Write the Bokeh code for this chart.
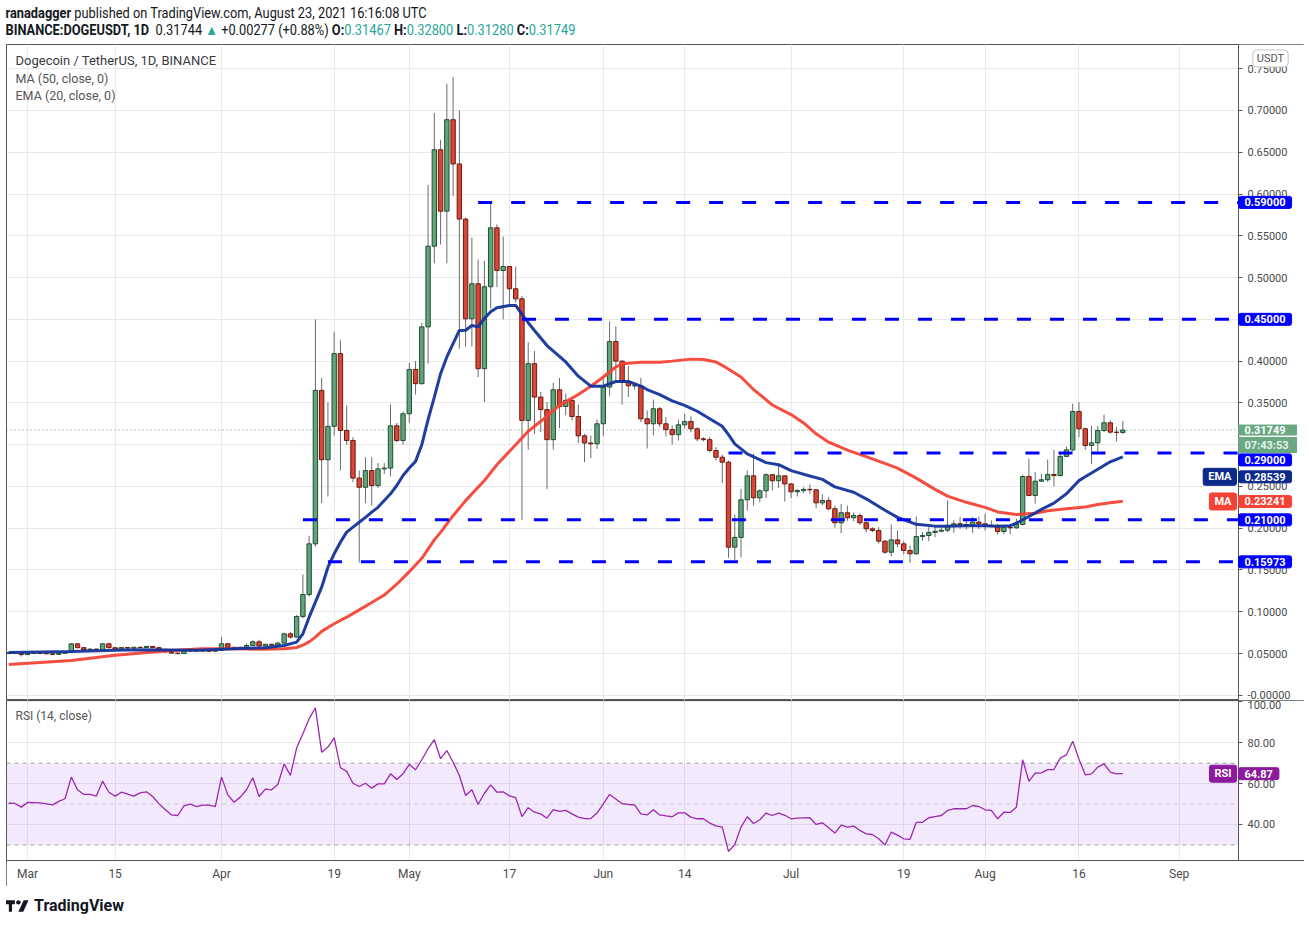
import pandas as pd
from bokeh.plotting import figure
from bokeh.layouts import column
from bokeh.models import (ColumnDataSource, FixedTicker, Label, BoxAnnotation,
                          Div, Grid, NumeralTickFormatter, Range1d)
from bokeh.embed import file_html
from bokeh.resources import INLINE

# ---------------- data ----------------
START = "2021-02-26"   # first daily candle

open_ = [.0500,.0512,.0505,.0487,.0503,.0505,.0500,.0497,.0490,.0503,
         .0520,.0616,.0570,.0548,.0553,.0547,.0616,.0570,.0552,.0572,
         .0565,.0575,.0572,.0585,.0570,.0550,.0520,.0505,.0500,.0536,
         .0530,.0534,.0530,.0528,.0536,.0617,.0575,.0555,.0575,.0596,
         .0640,.0590,.0610,.0600,.0625,.0736,.0697,.0943,.1207,.1813,
         .3650,.2820,.3220,.4090,.3170,.3050,.2600,.2490,.2690,.2510,
         .2710,.2720,.3226,.3050,.3370,.3900,.3730,.4410,.5376,.6530,
         .5795,.6890,.6360,.5700,.4507,.4926,.3910,.4890,.5596,.5085,
         .5133,.4866,.4746,.3290,.3970,.3570,.3420,.3060,.3657,.3457,
         .3530,.3337,.3106,.3020,.3010,.3250,.3690,.4235,.4000,.3756,
         .3705,.3705,.3310,.3250,.3430,.3250,.3180,.3120,.3238,.3278,
         .3190,.3070,.3060,.2930,.2850,.2790,.1773,.1890,.2340,.2627,
         .2364,.2448,.2640,.2568,.2627,.2530,.2436,.2450,.2465,.2460,
         .2304,.2332,.2233,.2065,.2185,.2125,.2152,.2065,.1993,.1973,
         .1845,.1713,.1860,.1813,.1733,.1694,.1900,.1913,.1950,.1964,
         .1976,.2033,.2053,.2045,.2033,.2073,.2053,.2025,.2033,.1960,
         .2013,.2005,.2045,.2619,.2392,.2563,.2580,.2643,.2630,.2859,
         .2938,.3397,.3190,.2990,.3022,.3170,.3262,.3150,.31467]
high = [.0520,.0518,.0510,.0510,.0512,.0510,.0506,.0503,.0506,.0525,
        .0625,.0625,.0577,.0558,.0560,.0628,.0632,.0576,.0578,.0577,
        .0580,.0582,.0592,.0590,.0573,.0553,.0524,.0508,.0540,.0542,
        .0538,.0538,.0534,.0540,.0700,.0625,.0580,.0582,.0620,.0660,
        .0665,.0615,.0618,.0640,.0750,.0760,.0960,.1446,.1910,.4500,
        .3800,.3510,.4350,.4250,.3470,.3090,.2690,.2850,.2850,.2780,
        .2780,.3480,.3260,.3400,.3980,.4000,.4460,.6110,.6970,.6650,
        .7320,.7400,.7000,.5720,.5480,.5216,.5200,.5900,.5637,.5490,
        .5135,.5130,.4780,.4227,.4120,.3630,.3510,.3740,.3800,.3610,
        .3560,.3480,.3130,.3110,.3300,.3820,.4475,.4415,.4010,.3940,
        .3730,.3800,.3410,.3540,.3450,.3330,.3230,.3300,.3370,.3340,
        .3210,.3090,.3090,.2970,.2880,.2810,.2160,.2470,.2690,.2890,
        .2465,.2660,.2650,.2760,.2630,.2540,.2470,.2490,.2525,.2465,
        .2405,.2372,.2270,.2290,.2270,.2190,.2180,.2085,.2013,.2013,
        .1853,.2045,.1973,.1845,.1793,.2140,.1953,.2013,.2025,.2005,
        .2332,.2093,.2133,.2093,.2133,.2140,.2173,.2093,.2053,.2033,
        .2045,.2113,.2640,.2830,.2672,.2652,.2822,.2940,.2893,.2978,
        .3490,.3506,.3205,.3225,.3225,.3358,.3298,.3210,.3280]
low = [.0495,.0500,.0465,.0482,.0495,.0496,.0492,.0486,.0488,.0500,
       .0515,.0562,.0540,.0542,.0543,.0540,.0562,.0548,.0549,.0560,
       .0560,.0567,.0568,.0566,.0546,.0515,.0500,.0490,.0497,.0524,
       .0525,.0526,.0522,.0524,.0530,.0570,.0540,.0550,.0570,.0590,
       .0585,.0585,.0595,.0595,.0620,.0680,.0690,.0920,.1180,.1780,
       .2300,.2380,.3110,.2690,.3000,.2550,.1590,.2300,.2270,.2480,
       .2650,.2620,.3030,.3000,.3260,.3600,.3720,.3970,.5170,.5396,
       .5170,.5980,.4150,.4175,.4175,.3810,.3510,.4630,.4885,.4500,
       .4666,.4700,.2100,.2940,.3130,.3150,.2470,.2940,.3200,.3350,
       .3290,.3020,.2790,.2840,.2950,.3100,.3580,.3770,.3480,.3570,
       .3660,.3270,.2954,.3110,.3210,.3100,.3000,.3050,.3190,.3150,
       .3040,.3040,.2910,.2810,.2540,.1646,.1620,.1650,.2210,.2270,
       .2310,.2360,.2450,.2480,.2320,.2360,.2380,.2420,.2410,.2240,
       .2275,.2212,.2005,.1940,.2090,.2085,.2040,.1953,.1953,.1813,
       .1693,.1665,.1773,.1685,.1587,.1685,.1850,.1845,.1893,.1953,
       .1953,.1945,.1993,.1985,.1945,.1993,.1973,.2010,.1920,.1930,
       .1930,.1993,.2033,.2382,.2295,.2555,.2555,.2502,.2622,.2852,
       .2918,.3090,.2938,.2770,.2918,.3150,.3130,.3040,.3128]
close = [.0512,.0505,.0487,.0503,.0505,.0500,.0497,.0490,.0503,.0520,
         .0616,.0570,.0548,.0553,.0547,.0616,.0570,.0552,.0572,.0565,
         .0575,.0572,.0585,.0570,.0550,.0520,.0505,.0500,.0536,.0530,
         .0534,.0530,.0528,.0536,.0617,.0575,.0555,.0575,.0596,.0640,
         .0590,.0610,.0600,.0625,.0736,.0697,.0943,.1207,.1813,.3650,
         .2820,.3220,.4090,.3170,.3050,.2600,.2490,.2690,.2510,.2710,
         .2720,.3226,.3050,.3370,.3900,.3730,.4410,.5376,.6530,.5795,
         .6890,.6360,.5700,.4507,.4926,.3910,.4890,.5596,.5085,.5133,
         .4866,.4746,.3290,.3970,.3570,.3420,.3060,.3657,.3457,.3530,
         .3337,.3106,.3020,.3010,.3250,.3690,.4235,.4000,.3756,.3705,
         .3705,.3310,.3250,.3430,.3250,.3180,.3120,.3238,.3278,.3190,
         .3070,.3060,.2930,.2850,.2790,.1773,.1890,.2340,.2627,.2364,
         .2448,.2640,.2568,.2627,.2530,.2436,.2450,.2465,.2460,.2304,
         .2332,.2233,.2065,.2185,.2125,.2152,.2065,.1993,.1973,.1845,
         .1713,.1860,.1813,.1733,.1694,.1900,.1913,.1950,.1964,.1976,
         .2033,.2053,.2045,.2033,.2073,.2053,.2025,.2033,.1960,.2013,
         .2005,.2045,.2619,.2392,.2563,.2580,.2643,.2630,.2859,.2938,
         .3397,.3190,.2990,.3022,.3170,.3262,.3150,.31467,.31749]

rsi = [50.4,50.3,48.5,50.8,50.7,50.6,50.1,49.6,51.3,52.6,
       63.2,57.0,54.7,54.7,53.9,61.2,55.8,53.9,55.8,54.9,
       53.9,55.5,56.0,53.7,50.1,47.3,44.7,44.4,49.1,50.0,
       48.8,49.5,49.5,48.8,63.2,54.5,50.9,53.4,57.0,62.9,
       53.7,57.3,57.0,59.6,69.7,64.0,77.4,84.4,91.8,97.1,
       75.4,77.9,82.4,67.8,66.0,60.2,58.6,60.2,57.8,59.9,
       59.9,64.8,62.0,64.8,69.4,66.8,71.7,77.1,81.5,72.2,
       76.2,70.5,64.0,54.2,57.0,49.8,55.3,59.4,55.8,56.0,
       54.0,53.1,43.9,48.2,46.0,45.2,43.1,47.3,46.4,46.9,
       45.2,43.6,42.9,42.9,45.6,50.1,54.7,52.5,50.2,49.8,
       49.6,45.2,44.7,47.2,44.7,44.2,43.8,45.7,45.7,43.6,
       42.8,42.8,40.7,39.3,38.7,26.8,30.2,38.7,43.8,40.5,
       42.3,45.6,44.4,45.6,44.5,42.8,43.1,43.2,43.3,40.0,
       40.8,38.4,35.8,39.7,38.7,39.2,37.1,35.4,35.1,33.0,
       30.0,36.3,34.8,33.0,32.7,41.0,41.1,43.3,43.9,44.4,
       46.9,47.7,47.7,47.7,49.3,48.8,47.2,46.9,42.8,46.0,
       45.9,48.5,71.7,61.1,65.1,65.3,66.9,66.9,72.5,74.1,
       80.8,72.0,64.3,64.8,68.1,69.7,65.6,64.8,64.87]

# EMA(20) and MA(50) at these candle numbers
ema_day = [0,10,20,30,36,41,44,46,47,48,49,50,51,52,53,54,55,56,57,58,59,60,61,62,63,64,65,66,67,68,
           69,70,71,72,73,74,75,76,77,78,80,81,82,83,84,86,89,91,93,95,97,99,101,102,104,106,108,110,
           112,114,115,116,118,121,123,125,128,130,132,135,137,140,142,145,148,150,153,156,158,160,161,
           163,165,167,169,171,172,174,176,178]
ema_val = [.0512,.0525,.0545,.0540,.0556,.0570,.0596,.0636,.0736,.0935,.1115,.1294,.1533,.1694,.1833,
           .1953,.2013,.2072,.2130,.2192,.2250,.2332,.2412,.2511,.2631,.2720,.2800,.3000,.3300,.3570,
           .3850,.4050,.4210,.4367,.4370,.4427,.4410,.4510,.4590,.4638,.4666,.4666,.4560,.4460,.4367,
           .4187,.3990,.3820,.3700,.3700,.3756,.3756,.3700,.3660,.3600,.3525,.3470,.3400,.3310,.3220,
           .3120,.3010,.2890,.2785,.2760,.2690,.2625,.2585,.2495,.2430,.2352,.2215,.2130,.2047,.2025,
           .2025,.2030,.2030,.2025,.2030,.2060,.2140,.2225,.2300,.2412,.2570,.2615,.2705,.2795,.2854]
ma_day = [0,10,17,26,31,36,41,44,46,47,48,49,50,52,54,56,58,60,62,64,65,66,67,68,69,71,73,76,78,81,
          83,85,88,91,93,95,97,98,101,104,106,109,111,113,114,117,119,120,122,125,127,129,131,134,138,
          142,145,148,150,153,156,158,161,164,166,169,172,174,176,178]
ma_val = [.0370,.0417,.0480,.0536,.0556,.0556,.0550,.0557,.0572,.0600,.0640,.0696,.0765,.0856,.0935,
          .1023,.1110,.1200,.1330,.1480,.1560,.1640,.1750,.1860,.1950,.2150,.2330,.2570,.2760,.3000,
          .3160,.3280,.3470,.3600,.3700,.3810,.3930,.3970,.3986,.3986,.4000,.4024,.4020,.3990,.3950,
          .3810,.3660,.3600,.3475,.3360,.3260,.3130,.3030,.2935,.2830,.2720,.2600,.2465,.2385,.2310,
          .2250,.2195,.2164,.2180,.2210,.2233,.2255,.2284,.2305,.2324]

levels = [0.59, 0.45, 0.29, 0.21, 0.15973]
level_start = ["2021-05-12", "2021-05-19", "2021-06-21", "2021-04-14", "2021-04-18"]
# where each level's price tag sits on the scale (0.29 tag is nudged below the last-price tag)
level_tag_at = [0.59, 0.45, 0.2818, 0.21, 0.15973]

tick_dates = ["2021-03-01", "2021-03-15", "2021-04-01", "2021-04-19", "2021-05-01", "2021-05-17",
              "2021-06-01", "2021-06-14", "2021-07-01", "2021-07-19", "2021-08-01", "2021-08-16",
              "2021-09-01"]
tick_labels = ["Mar", "15", "Apr", "19", "May", "17", "Jun", "14", "Jul", "19", "Aug", "16", "Sep"]
price_ticks = [0.0, 0.05, 0.10, 0.15, 0.20, 0.25, 0.30, 0.35, 0.40, 0.45, 0.50, 0.55, 0.60, 0.65, 0.70, 0.75]
rsi_ticks = [40, 60, 80, 100]
last_close = close[-1]
ema_last = 0.28539
ma_last = 0.23241
rsi_last = 64.87
countdown = "07:43:53"

# ---------------- styling ----------------
FONT = "Roboto"
UP_FILL, UP_LINE = "#62a37a", "#1e5032"
DN_FILL, DN_LINE = "#d74637", "#6e190f"
WICK = "#6b6b6b"
GRID = "#e9e9e9"
FRAME = "#555555"
AXTXT = "#4a4a4a"
LEVEL = "#0000ff"


def day_of(s):
    return (pd.Timestamp(s) - pd.Timestamp(START)).days


days = list(range(len(close)))
tick_days = [day_of(s) for s in tick_dates]
level_days = [day_of(s) for s in level_start]

# x extent: frame spans the plot area plus the price-scale strip on the right
X0, X1, XEND = -0.355, 196.48, 207.03
PY0, PY1 = -0.00622, 0.7790
RY0, RY1 = 22.37, 100.71
W = 1298
TAG_L = 1232      # left edge of the scale tags (canvas px)
TAG_R = 1230      # right edge of the name tags (canvas px)

src = ColumnDataSource(dict(
    x=days, o=open_, h=high, l=low, c=close,
    top=[max(o, c) for o, c in zip(open_, close)],
    bottom=[min(o, c) for o, c in zip(open_, close)],
    fill=[UP_FILL if c >= o else DN_FILL for o, c in zip(open_, close)],
    line=[UP_LINE if c >= o else DN_LINE for o, c in zip(open_, close)],
))


def style_yaxis(ax, ticks, fmt):
    ax.ticker = FixedTicker(ticks=ticks)
    ax.formatter = NumeralTickFormatter(format=fmt)
    ax.fixed_location = X1
    ax.axis_line_color = FRAME
    ax.major_tick_line_color = FRAME
    ax.major_tick_out = 4
    ax.major_tick_in = 0
    ax.minor_tick_line_color = None
    ax.major_label_text_color = AXTXT
    ax.major_label_text_font = FONT
    ax.major_label_text_font_size = "11px"
    ax.major_label_standoff = 5


def txt(fig, y, text, color, size="12px"):
    fig.add_layout(Label(x=9, y=y, x_units="screen", y_units="data", text=text,
                         text_color=color, text_font=FONT, text_font_size=size,
                         text_baseline="middle", text_align="left"))


def tag(fig, y, text, bg, fg="white", x=TAG_L, align="left", style="bold", border=None,
        pad=(6, 6, 2, 2), radius=2):
    fig.add_layout(Label(x=x, y=y, x_units="screen", y_units="data", text=text,
                         text_color=fg, text_font=FONT, text_font_size="11px",
                         text_font_style=style, text_baseline="middle", text_align=align,
                         background_fill_color=bg, border_line_color=border or bg,
                         padding=dict(left=pad[0], right=pad[1], top=pad[2], bottom=pad[3]),
                         border_radius=radius))


# ---------------- price pane ----------------
p = figure(width=W, height=656, x_range=Range1d(X0, XEND), y_range=Range1d(PY0, PY1),
           x_axis_location=None, y_axis_location="right", toolbar_location=None,
           output_backend="svg", min_border_left=0, min_border_right=0,
           min_border_top=0, min_border_bottom=0, margin=(0, 0, 0, 6),
           background_fill_color="white", border_fill_color="white")
p.outline_line_color = FRAME
p.outline_line_width = 1
for g in p.xgrid:
    g.ticker = FixedTicker(ticks=tick_days)
    g.grid_line_color = GRID
p.add_layout(Grid(dimension=0, ticker=FixedTicker(ticks=tick_days), grid_line_color=GRID))
p.ygrid.grid_line_color = GRID
p.ygrid.ticker = FixedTicker(ticks=price_ticks)

style_yaxis(p.yaxis[0], price_ticks, "0.00000")
p.yaxis[0].major_label_overrides = {0: "-0.00000"}

# blank strip for the price scale
p.quad(left=[X1], right=[XEND], bottom=[PY0], top=[PY1], fill_color="white", line_color=None)

# current price dotted line
p.segment(x0=[X0], y0=[last_close], x1=[X1], y1=[last_close], line_color="#5e9f78",
          line_dash="1 3", line_width=1)

# candles
p.segment(x0="x", y0="l", x1="x", y1="h", source=src, line_color=WICK, line_width=1)
p.vbar(x="x", width=0.7, top="top", bottom="bottom", fill_color="fill", line_color="line",
       line_width=1, source=src)

# moving averages
p.line(ma_day, ma_val, line_color="#f44336", line_width=3, line_alpha=0.95)
p.line(ema_day, ema_val, line_color="#13349a", line_width=3, line_alpha=0.95)

# horizontal levels
p.segment(x0=level_days, y0=levels, x1=[X1] * len(levels), y1=levels,
          line_color=LEVEL, line_width=3, line_dash="14 19")

txt(p, 0.7597, "Dogecoin / TetherUS, 1D, BINANCE", "#3a3a3a", "13px")
txt(p, 0.7381, "MA (50, close, 0)", "#555555", "12.5px")
txt(p, 0.7178, "EMA (20, close, 0)", "#555555", "12.5px")

tag(p, 0.7623, "USDT", "white", fg="#555555", x=1264, align="center", style="normal",
    border="#c4c4c4", pad=(4, 4, 2, 2), radius=4)
for lv, at in zip(levels, level_tag_at):
    tag(p, at, f"{lv:.5f}", LEVEL)
tag(p, 0.2996, countdown, "#6aa884", fg="#e6f2ea", pad=(6, 8, 1, 1), radius=0)
tag(p, last_close, f"{last_close:.5f}", "#6aa884", pad=(6, 11, 1, 1), radius=0)
tag(p, 0.2615, f"{ema_last:.5f}", "#0d2a8a")
tag(p, 0.2615, "EMA", "#0d2a8a", x=TAG_R, align="right", pad=(5, 5, 2, 2))
tag(p, 0.2320, f"{ma_last:.5f}", "#f44336")
tag(p, 0.2320, "MA", "#f44336", x=TAG_R, align="right", pad=(5, 5, 2, 2))

# ---------------- RSI pane ----------------
r = figure(width=W, height=186, x_range=p.x_range, y_range=Range1d(RY0, RY1),
           x_axis_location="below", y_axis_location="right", toolbar_location=None,
           output_backend="svg", min_border_left=0, min_border_right=0,
           min_border_top=0, min_border_bottom=26, margin=(0, 0, 0, 6),
           background_fill_color="white", border_fill_color="white")
r.outline_line_color = FRAME
r.styles = {"outline": "1px solid #555555", "outline-offset": "-1px"}
r.xgrid.ticker = FixedTicker(ticks=tick_days)
r.xgrid.grid_line_color = GRID
r.ygrid.ticker = FixedTicker(ticks=rsi_ticks)
r.ygrid.grid_line_color = GRID

r.add_layout(BoxAnnotation(left=X0, right=X1, bottom=30, top=70, fill_color="#8a2be2",
                           fill_alpha=0.1, line_color=None, level="underlay"))
r.quad(left=[X1], right=[XEND], bottom=[RY0], top=[RY1], fill_color="white", line_color=None)
r.segment(x0=[X0, X0], y0=[70, 30], x1=[X1, X1], y1=[70, 30], line_color="#a0a0a0",
          line_dash="4 4", line_width=1)
r.segment(x0=[X0], y0=[50], x1=[X1], y1=[50], line_color="#c6c6c6", line_dash="4 4", line_width=1)

r.line(days, rsi, line_color="#9c27b0", line_width=1.3)

rx = r.xaxis[0]
rx.ticker = FixedTicker(ticks=tick_days)
rx.major_label_overrides = {d: lab for d, lab in zip(tick_days, tick_labels)}
rx.axis_line_color = FRAME
rx.major_tick_out = 0
rx.major_tick_in = 0
rx.minor_tick_line_color = None
rx.major_label_text_color = AXTXT
rx.major_label_text_font = FONT
rx.major_label_text_font_size = "12px"
rx.major_label_standoff = 6

style_yaxis(r.yaxis[0], rsi_ticks, "0.00")

txt(r, 92.9, "RSI (14, close)", "#555555", "12px")
tag(r, rsi_last, f"{rsi_last:.2f}", "#8b1a9c")
tag(r, rsi_last, "RSI", "#8b1a9c", x=TAG_R, align="right", pad=(5, 5, 2, 2))

# ---------------- header / footer ----------------
TEAL = "#26a69a"
header = Div(width=1309, height=44, margin=0, text=(
    "<div style=\"font-family:Roboto, sans-serif;font-size:14px;line-height:17px;color:#131722;"
    "padding-left:6px;padding-top:5px;white-space:nowrap;transform:scaleX(0.915);"
    "transform-origin:0 0\">"
    "<b>ranadagger</b> published on TradingView.com, August 23, 2021 16:16:08 UTC<br>"
    "<b>BINANCE:DOGEUSDT, 1D</b>&nbsp; 0.31744 "
    f"<span style=\"color:{TEAL}\">&#9650;</span> +0.00277 (+0.88%) "
    f"<b>O:</b><span style=\"color:{TEAL}\">0.31467</span> "
    f"<b>H:</b><span style=\"color:{TEAL}\">0.32800</span> "
    f"<b>L:</b><span style=\"color:{TEAL}\">0.31280</span> "
    f"<b>C:</b><span style=\"color:{TEAL}\">0.31749</span></div>"))

footer = Div(width=1309, height=36, margin=0, text=(
    "<div style=\"padding-left:6px;padding-top:9px;display:flex;align-items:center;"
    "font-family:Roboto, sans-serif;font-weight:700;font-size:16px;color:#131722\">"
    "<svg width=\"23\" height=\"14\" viewBox=\"0 0 26 15\" style=\"margin-right:5px\">"
    "<path d=\"M0 1h10v4.5H6.8V14H3.2V5.5H0z\" fill=\"#131722\"/>"
    "<circle cx=\"14\" cy=\"3.4\" r=\"2.5\" fill=\"#131722\"/>"
    "<path d=\"M20 1h5.5l-6 13H14z\" fill=\"#131722\"/></svg>TradingView</div>"))

layout = column(header, p, r, footer, spacing=0)
open("out.html", "w").write(file_html(layout, INLINE))
